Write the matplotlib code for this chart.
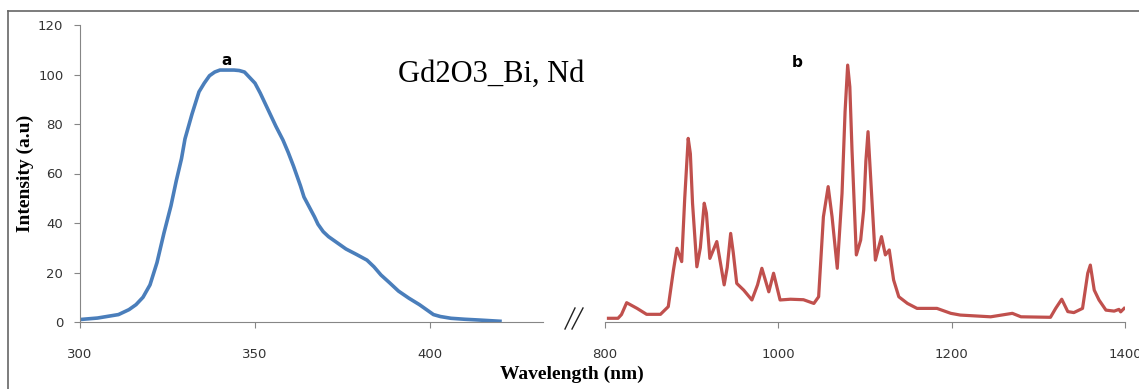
import matplotlib
matplotlib.use('Agg')
import matplotlib.pyplot as plt
from matplotlib.lines import Line2D

# excitation spectrum (a)
wl_a = [300, 305, 311, 314, 316, 318, 320, 322, 324, 326, 327.5, 329, 330, 332,
        334, 335.5, 337, 338.5, 340, 344, 345.5, 347, 350, 351.5, 353, 356,
        358, 359.5, 361, 363, 364, 365.5, 367, 368, 369.5, 371, 372.5, 374,
        376, 379, 382, 384, 386, 388.5, 391, 394, 397, 399, 401, 403, 406,
        410, 414, 420]
int_a = [1.0, 1.6, 3.0, 5.0, 7.0, 10, 15, 24, 36, 47, 57, 66, 74, 84,
         93, 96.5, 99.5, 101, 101.8, 101.8, 101.6, 101, 96.5, 92.5, 88, 79,
         73.5, 68.5, 63, 55, 50.5, 46.5, 42.5, 39.5, 36.5, 34.5, 33, 31.5,
         29.5, 27.3, 25, 22.3, 19, 15.8, 12.5, 9.6, 7, 5, 3, 2.2, 1.5,
         1.1, 0.8, 0.3]

# emission spectrum (b)
wl_b = [804, 815, 819, 825, 837, 848, 864, 873, 879, 883, 888.5, 892, 896, 898.5,
        901, 906, 910, 914.5, 917, 921, 929, 937.5, 941, 945, 948, 952, 960,
        969.5, 976, 981, 989, 994.5, 1002, 1014, 1029, 1041, 1046.5, 1052,
        1057.5, 1062, 1068, 1073.5, 1077, 1080, 1082.5, 1085, 1090, 1095,
        1098.5, 1101, 1103.5, 1108, 1112, 1119, 1123.5, 1128, 1133, 1139,
        1149, 1160, 1183, 1199, 1210, 1245, 1270, 1280, 1314, 1320, 1327,
        1334, 1341, 1351, 1357, 1360, 1364.5, 1370, 1378, 1387.5, 1393,
        1395, 1399]
int_b = [1.5, 1.5, 3.0, 7.8, 5.5, 3.1, 3.1, 6.2, 21, 29.8, 24.4, 50, 74.2, 68,
         48, 22.3, 30, 48, 44, 25.7, 32.5, 15, 22, 35.8, 28, 15.6, 12.9,
         8.9, 15, 21.7, 12.2, 19.7, 8.9, 9.2, 9.0, 7.5, 10.2, 42.5,
         54.7, 42.5, 21.7, 52, 85, 103.8, 95, 69.5, 27.1, 33.1,
         45.3, 65, 76.9, 49.3, 25, 34.5, 27.1, 29.1, 17, 10.2,
         7.5, 5.5, 5.5, 3.5, 2.8, 2.1, 3.5, 2.1, 1.9, 5.5, 9.2,
         4.2, 3.8, 5.5, 19.7, 23, 12.9, 8.9, 4.8, 4.4, 5.1,
         4.1, 5.5]

W, H = 1139, 389
axis_col = '#868686'
tick_col = '#333333'

fig = plt.figure(figsize=(W / 100, H / 100), dpi=100)


def fx(px):
    return px / W


def fy(py):
    return 1 - py / H


ax1 = fig.add_axes([fx(80), fy(322), fx(463), 297 / H])
ax2 = fig.add_axes([fx(605), fy(322), fx(520), 297 / H])

ax1.plot(wl_a, int_a, color='#4A7EBB', lw=2.6, solid_joinstyle='round')
ax2.plot(wl_b, int_b, color='#C0504D', lw=2.3, solid_joinstyle='round')

ax1.set_xlim(300, 432.3)
ax1.set_ylim(0, 120)
ax1.set_xticks([300, 350, 400])
ax1.set_yticks(range(0, 121, 20))

ax2.set_xlim(800, 1400)
ax2.set_ylim(0, 120)
ax2.set_xticks([800, 1000, 1200, 1400])
ax2.set_yticks([])

for ax in (ax1, ax2):
    for s in ('top', 'right'):
        ax.spines[s].set_visible(False)
    ax.spines['bottom'].set_color(axis_col)
    ax.spines['left'].set_color(axis_col)
    ax.set_facecolor('none')
    ax.tick_params(axis='x', direction='out', length=4, color=axis_col,
                   labelsize=9.5, labelcolor=tick_col, pad=15)
    ax.tick_params(axis='y', direction='out', length=4, color=axis_col,
                   labelsize=9.5, labelcolor=tick_col, pad=8)
ax2.spines['left'].set_visible(False)

# text labels
fig.text(fx(491), fy(82), 'Gd2O3_Bi, Nd', family='Liberation Serif',
         fontsize=22, ha='center', va='baseline')
fig.text(fx(227), fy(65), 'a', fontsize=11, fontweight='bold',
         ha='center', va='baseline')
fig.text(fx(797), fy(67), 'b', fontsize=11, fontweight='bold',
         ha='center', va='baseline')
fig.text(fx(25), fy(173), 'Intensity (a.u)', family='Liberation Serif',
         fontweight='bold', fontsize=14, rotation=90, ha='center', va='center')
fig.text(fx(572), fy(374), 'Wavelength (nm)', family='Liberation Serif',
         fontweight='bold', fontsize=14, ha='center', va='center')

# axis break marks
for x0, x1 in ((565, 575), (572, 583)):
    fig.add_artist(Line2D([fx(x0), fx(x1)], [fy(329), fy(308)],
                          transform=fig.transFigure, color='#222222', lw=1.0))

# chart frame (top and left edges)
fig.add_artist(Line2D([fx(8), 1.0], [fy(11), fy(11)],
                      transform=fig.transFigure, color='#666666', lw=1.2))
fig.add_artist(Line2D([fx(8), fx(8)], [fy(11), 0.0],
                      transform=fig.transFigure, color='#666666', lw=1.2))

fig.savefig('out.png', dpi=100)
